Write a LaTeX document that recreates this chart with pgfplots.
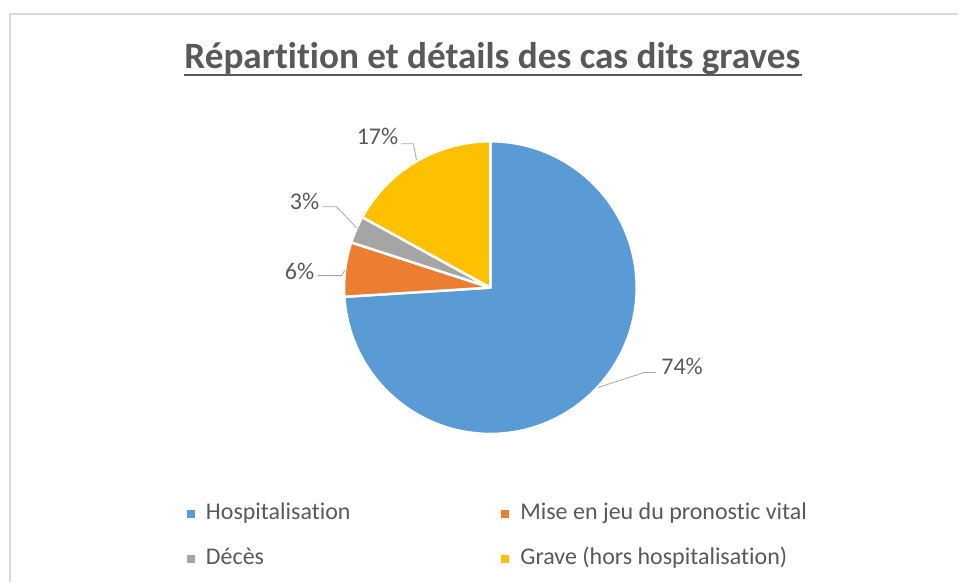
\documentclass[border=0pt]{standalone}
\usepackage{fontspec}
\setmainfont{Carlito}[Ligatures=NoCommon]
\usepackage{pgfplots}
\usepackage{pgfplotstable}
\pgfplotsset{compat=1.18}

\definecolor{cHosp}{HTML}{5B9BD5}
\definecolor{cMise}{HTML}{ED7D31}
\definecolor{cDeces}{HTML}{A5A5A5}
\definecolor{cGrave}{HTML}{FFC000}
\definecolor{txt}{HTML}{595959}
\definecolor{leader}{HTML}{A6A6A6}
\definecolor{framecol}{HTML}{D9D9D9}
\colorlet{pc0}{cHosp}
\colorlet{pc1}{cMise}
\colorlet{pc2}{cDeces}
\colorlet{pc3}{cGrave}

% share of each case (percent), clockwise from 12 o'clock
\pgfplotstableread{
part value
0 74
1 6
2 3
3 17
}\piedata

% start / end angle of every slice
\def\angstart{90}
\pgfplotsforeachungrouped \i in {0,...,3}{%
  \pgfplotstablegetelem{\i}{value}\of\piedata
  \pgfmathsetmacro\angend{\angstart-3.6*\pgfplotsretval}%
  \expandafter\xdef\csname sa\i\endcsname{\angstart}%
  \expandafter\xdef\csname ea\i\endcsname{\angend}%
  \xdef\angstart{\angend}%
}

\pgfplotsset{sq legend/.style={legend image code/.code={\fill[##1] (0pt,-4pt) rectangle (8pt,4pt);}}}

\begin{document}
\begin{tikzpicture}
\begin{axis}[width=959pt, height=583pt, scale only axis,
  xmin=0, xmax=959, ymin=0, ymax=583, hide axis, clip=false,
  legend columns=2, legend cell align=left,
  legend style={at={(0.195,0.1355)}, anchor=north west, draw=none, fill=none,
    inner sep=0pt, font=\fontsize{24}{28}\selectfont, text=txt, row sep=24pt,
    nodes={inner sep=0pt, text height=16pt, text depth=5pt},
    /tikz/every odd column/.append style={column sep=11pt},
    /tikz/every even column/.append style={column sep=151pt}}]
\path (axis cs:0,0) rectangle (axis cs:959,583);
\draw[framecol, line width=2.5pt] (axis cs:10,0) -- (axis cs:10,569) -- (axis cs:959,569);

% slices
\pgfplotsinvokeforeach{0,...,3}{
  \fill[pc#1, draw=white, line width=2.5pt, line join=round]
    (axis cs:491,295) -- ++(\csname sa#1\endcsname:146.5pt)
    arc[start angle=\csname sa#1\endcsname, end angle=\csname ea#1\endcsname, radius=146.5pt] -- cycle;
}

% title
\node[txt, font=\bfseries\fontsize{37.2}{42}\selectfont, anchor=base] at (axis cs:493,514)
  {Répartition et détails des cas dits graves};
\draw[txt, line width=2pt] (axis cs:184,508) -- (axis cs:803,508);

% data labels with leader lines
\draw[leader, line width=0.8pt] (axis cs:599,195) -- (axis cs:645,210) -- (axis cs:657,210);
\node[txt, font=\fontsize{24}{28}\selectfont] at (axis cs:683,216) {74\%};
\draw[leader, line width=0.8pt] (axis cs:402,439) -- (axis cs:414,439) -- (axis cs:417,423);
\node[txt, font=\fontsize{24}{28}\selectfont] at (axis cs:378,446) {17\%};
\draw[leader, line width=0.8pt] (axis cs:323,376) -- (axis cs:337,376) -- (axis cs:357,355);
\node[txt, font=\fontsize{24}{28}\selectfont] at (axis cs:305,381) {3\%};
\draw[leader, line width=0.8pt] (axis cs:318,307) -- (axis cs:342,307) -- (axis cs:345,312);
\node[txt, font=\fontsize{24}{28}\selectfont] at (axis cs:300,311) {6\%};

\addlegendimage{sq legend, fill=cHosp, draw=none}
\addlegendentry{Hospitalisation}
\addlegendimage{sq legend, fill=cMise, draw=none}
\addlegendentry{Mise en jeu du pronostic vital}
\addlegendimage{sq legend, fill=cDeces, draw=none}
\addlegendentry{Décès}
\addlegendimage{sq legend, fill=cGrave, draw=none}
\addlegendentry{Grave (hors hospitalisation)}
\end{axis}
\end{tikzpicture}
\end{document}
